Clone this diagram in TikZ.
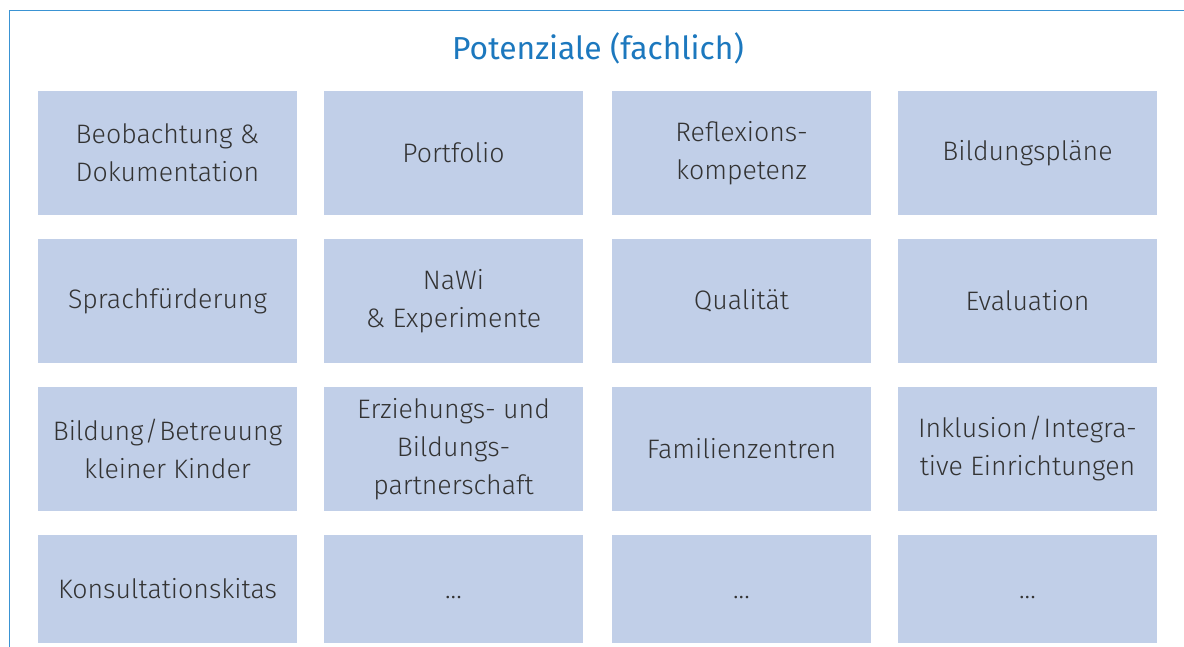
\documentclass[tikz,border=0pt]{standalone}
\usepackage{fontspec}
\setmainfont{Fira Sans Light}
\newfontfamily\titlefont{Fira Sans}
\definecolor{boxfill}{HTML}{C1CFE8}
\definecolor{titleblue}{HTML}{1C78BE}
\definecolor{frameblue}{HTML}{3A93D3}
\definecolor{txt}{HTML}{333333}
\begin{document}
\begin{tikzpicture}[x=1pt,y=-1pt,
  cell/.style={fill=boxfill,draw=none,minimum width=259pt,minimum height=124pt,inner sep=0pt,
    text=txt,align=center,font=\fontsize{26.7}{38}\selectfont},
  lastcell/.style={cell,minimum height=108pt}]
\useasboundingbox (0,0) rectangle (1184,647);
\draw[frameblue,line width=1.5pt] (9.5,647) -- (9.5,10.5) -- (1184,10.5);
\node[text=titleblue,font=\titlefont\fontsize{31.8}{36}\selectfont,anchor=center] (title) at (598,48) {Potenziale (fachlich)};
% row 1
\node[cell] (a1) at (167.5,153) {Beobachtung \&\\Dokumentation};
\node[cell] (a2) at (453.5,153) {Portfolio};
\node[cell] (a3) at (741.5,153) {Reflexions-\\kompetenz};
\node[cell] (a4) at (1027.5,153) {Bildungspläne};
% row 2
\node[cell] (b1) at (167.5,301) {Sprachfürderung};
\node[cell] (b2) at (453.5,301) {NaWi\\\&~Experimente};
\node[cell] (b3) at (741.5,301) {Qualität};
\node[cell] (b4) at (1027.5,301) {Evaluation};
% row 3
\node[cell] (c1) at (167.5,449) {Bildung\kern1pt/\kern1ptBetreuung\\kleiner Kinder};
\node[cell] (c2) at (453.5,449) {Erziehungs- und\\Bildungs-\\partnerschaft};
\node[cell] (c3) at (741.5,449) {Familienzentren};
\node[cell] (c4) at (1027.5,449) {Inklusion\kern1pt/\kern1ptIntegra-\\tive Einrichtungen};
% row 4
\node[lastcell] (d1) at (167.5,589) {Konsultationskitas};
\node[lastcell] (d2) at (453.5,589) {\vphantom{K}...};
\node[lastcell] (d3) at (741.5,589) {\vphantom{K}...};
\node[lastcell] (d4) at (1027.5,589) {\vphantom{K}...};
\end{tikzpicture}
\end{document}
